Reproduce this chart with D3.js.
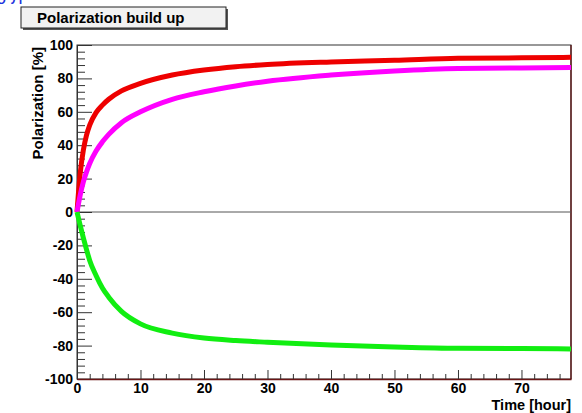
<!DOCTYPE html>
<html>
<head>
<meta charset="utf-8">
<script src="https://cdn.jsdelivr.net/npm/d3@7"></script>
<style>
  body { margin: 0; background: #fff; }
  text { font-family: "Liberation Sans", Arial, sans-serif; font-weight: bold; }
</style>
</head>
<body>
<div id="main"></div>
<script>
var width = 582, height = 413;
var margin = {top: 45, right: 11, bottom: 34, left: 77};

// time in hours
var hours = [0, 0.5, 1, 1.5, 2, 3, 4, 5, 7, 10, 15, 20, 25, 30, 40, 50, 60, 70, 77.8];
var polRed = [0, 23, 37, 46, 52, 59.5, 64, 67.5, 72.5, 77, 82, 85, 87, 88.3, 89.8, 90.8, 92, 92.3, 92.6];
var polMagenta = [0, 10, 18, 24, 29, 36.5, 42, 46.5, 53.5, 60, 67.5, 72, 75.5, 78.3, 82, 84.5, 86, 86.3, 86.5];
var polGreen = [0, -8, -15.5, -22.5, -29, -38, -45.5, -51, -59.5, -67, -72.5, -75.5, -77, -78, -79.7, -80.8, -81.6, -81.8, -82];

var xMajor = [0, 10, 20, 30, 40, 50, 60, 70];
var yMajor = [-100, -80, -60, -40, -20, 0, 20, 40, 60, 80, 100];

var series = [
  {name: "red", values: polRed, color: "#ee0000"},
  {name: "magenta", values: polMagenta, color: "#ff00ff"},
  {name: "green", values: polGreen, color: "#11ee11"}
];

var svg = d3.select("#main").append("svg")
    .attr("width", width)
    .attr("height", height);

var x = d3.scaleLinear().domain([0, 77.8]).range([margin.left, width - margin.right]);
var y = d3.scaleLinear().domain([-100, 100]).range([height - margin.bottom, margin.top]);

// cut-off blue text at the very top
svg.append("text").attr("x", -3).attr("y", 4)
    .style("font-size", "18px").style("font-weight", "normal")
    .attr("fill", "#2233dd").text("ɔ Л");

// title box
svg.append("rect").attr("x", 23).attr("y", 9).attr("width", 205).attr("height", 21).attr("fill", "#555");
svg.append("rect").attr("x", 21).attr("y", 7).attr("width", 205).attr("height", 21)
    .attr("fill", "#f2f2f2").attr("stroke", "#222").attr("stroke-width", 1);
svg.append("text").attr("x", 37).attr("y", 23)
    .style("font-size", "15px").attr("fill", "#000").text("Polarization build up");

// frame
svg.append("rect")
    .attr("x", x(0)).attr("y", y(100))
    .attr("width", x(77.8) - x(0)).attr("height", y(-100) - y(100))
    .attr("fill", "none").attr("stroke", "#333").attr("stroke-width", 1);
svg.append("line").attr("x1", x(77.8)).attr("x2", x(77.8)).attr("y1", y(100)).attr("y2", y(-100))
    .attr("stroke", "#5a1010").attr("stroke-width", 1.3);

// zero line
svg.append("line").attr("x1", x(0)).attr("x2", x(77.8)).attr("y1", y(0)).attr("y2", y(0))
    .attr("stroke", "#555").attr("stroke-width", 1);

var labelStyle = g => g.selectAll("text").style("font-size", "14px").attr("fill", "#000")
    .style("font-family", "'Liberation Sans', Arial, sans-serif").style("font-weight", "bold");

// y axis, ticks inside
var yMinor = d3.range(-100, 100.1, 4).filter(v => yMajor.indexOf(v) < 0);
svg.append("g").attr("transform", "translate(" + x(0) + ",0)")
    .call(d3.axisLeft(y).tickValues(yMinor).tickSizeInner(-8).tickSizeOuter(0).tickFormat(""))
    .call(g => g.select(".domain").attr("stroke", "#333"))
    .call(g => g.selectAll("line").attr("stroke", "#333"));
svg.append("g").attr("transform", "translate(" + x(0) + ",0)")
    .call(d3.axisLeft(y).tickValues(yMajor).tickSizeInner(-15).tickSizeOuter(0).tickPadding(4)
        .tickFormat(d => String(d)))
    .call(g => g.select(".domain").remove())
    .call(g => g.selectAll("line").attr("stroke", "#333"))
    .call(labelStyle);

// x axis, ticks inside
var xMinor = d3.range(0, 77.8, 2).filter(v => xMajor.indexOf(v) < 0);
svg.append("g").attr("transform", "translate(0," + y(-100) + ")")
    .call(d3.axisBottom(x).tickValues(xMinor).tickSizeInner(-5).tickSizeOuter(0).tickFormat(""))
    .call(g => g.select(".domain").attr("stroke", "#6a1515").attr("stroke-width", 1.3))
    .call(g => g.selectAll("line").attr("stroke", "#333"));
svg.append("g").attr("transform", "translate(0," + y(-100) + ")")
    .call(d3.axisBottom(x).tickValues(xMajor).tickSizeInner(-9).tickSizeOuter(0).tickPadding(4)
        .tickFormat(d => String(d)))
    .call(g => g.select(".domain").remove())
    .call(g => g.selectAll("line").attr("stroke", "#333"))
    .call(labelStyle);

// axis titles
svg.append("text")
    .attr("transform", "translate(43," + (y(100) + 2) + ") rotate(-90)")
    .attr("text-anchor", "end")
    .style("font-size", "15px").attr("fill", "#000")
    .text("Polarization [%]");
svg.append("text")
    .attr("x", x(77.8)).attr("y", 410)
    .attr("text-anchor", "end")
    .style("font-size", "14.5px").attr("fill", "#000")
    .text("Time [hour]");

// curves
var line = d3.line()
    .x((d, i) => x(hours[i]))
    .y(d => y(d))
    .curve(d3.curveMonotoneX);

svg.append("g").selectAll("path").data(series)
    .enter().append("path")
    .attr("d", d => line(d.values))
    .attr("fill", "none")
    .attr("stroke", d => d.color)
    .attr("stroke-width", 5)
    .attr("stroke-linejoin", "round");
</script>
</body>
</html>
